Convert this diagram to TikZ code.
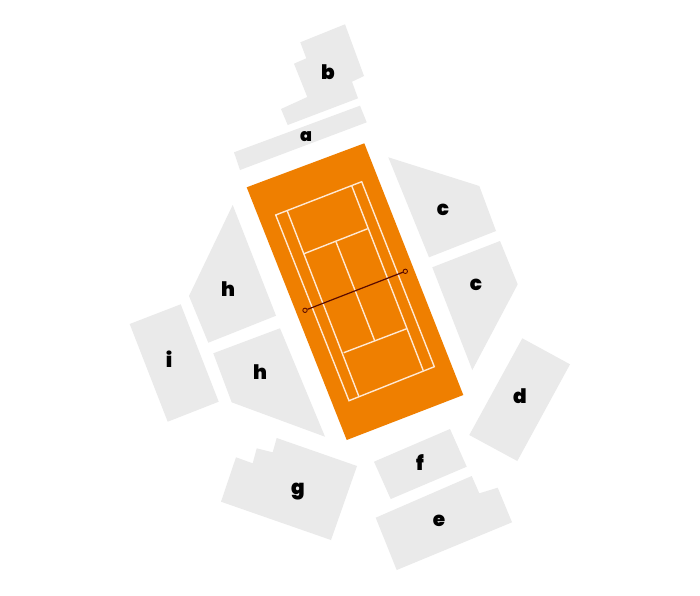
\documentclass[tikz,border=0pt]{standalone}
\usepackage{fontspec}
\setmainfont{Poppins}[BoldFont={Poppins Black}]
\definecolor{block}{HTML}{EAEAEA}
\definecolor{clay}{HTML}{EF7F00}
\definecolor{courtline}{HTML}{FFE8D2}
\definecolor{netline}{HTML}{5A0A00}
\tikzset{
  blockshape/.style={fill=block,draw=none},
  courtmark/.style={draw=courtline,line width=1.4pt,line join=miter},
  lab/.style={font=\bfseries\fontsize{20}{20}\selectfont,text=black,inner sep=0pt,anchor=base},
  labsmall/.style={lab,font=\bfseries\fontsize{17.5}{18}\selectfont},
  netpost/.style={circle,draw=netline,line width=0.85pt,inner sep=0pt,minimum size=4.4pt,fill=none}
}
\begin{document}
\begin{tikzpicture}[x=1pt,y=-1pt]
\useasboundingbox (0,0) rectangle (700,595);
\fill[white] (0,0) rectangle (700,595);
% a
\fill[blockshape] (234,152.3)--(360,105.7)--(366.7,122.3)--(240,170)--cycle;
% b
\fill[blockshape] (345,24.3)--(364,76)--(352,81.7)--(358,98.3)--(287.7,125)--(281,109)--(307.3,97)--(294,63.7)--(306.3,58.3)--(300.3,42.3)--cycle;
% c
\fill[blockshape] (388.3,157.3)--(479.3,186)--(496,231)--(429,257.3)--cycle;
\fill[blockshape] (500,241)--(517.7,284.3)--(472.3,370)--(432.3,267.3)--cycle;
% d
\fill[blockshape] (522.3,338.3)--(570,364.3)--(517.3,461)--(469.3,435)--cycle;
% e
\fill[blockshape] (471.7,476)--(479.3,493.3)--(497.7,487.7)--(512,522.3)--(396.7,570)--(375.7,517.7)--cycle;
% f
\fill[blockshape] (450,429)--(466.7,466.7)--(390.7,499)--(374,461.7)--cycle;
% g
\fill[blockshape] (276.7,438)--(357,466)--(331,540)--(221,501.7)--(236,457.3)--(252.7,463.3)--(256.7,448.3)--(272.7,452.3)--cycle;
% h
\fill[blockshape] (232.7,205)--(276,315.7)--(208.3,342.7)--(189,296)--cycle;
\fill[blockshape] (213.3,353.3)--(280,328.3)--(325,436.7)--(231.7,402.3)--cycle;
% i
\fill[blockshape] (180.7,304.3)--(218.7,401.7)--(167.7,421.7)--(129.7,324)--cycle;
% court
\fill[clay] (364.3,143.3)--(246.7,187.3)--(346.7,440)--(463.3,395)--cycle;
\draw[courtmark] (361.7,181.7)--(275.7,215)--(349,400.7)--(434.3,366.7)--cycle;
\draw[courtmark] (351.7,185.7)--(423.3,370.7);
\draw[courtmark] (287,210.3)--(359,396.7);
\draw[courtmark] (304,253.7)--(367.7,228.7);
\draw[courtmark] (343.7,352.7)--(406.7,328.7);
\draw[courtmark] (336,241.7)--(374.7,340.7);
% net
\node[netpost] (netA) at (305,310.3) {};
\node[netpost] (netB) at (405.3,271.3) {};
\draw[netline,line width=1.2pt] (netA)--(netB);
% labels
\node[labsmall] (la) at (306,141) {a};
\node[lab] (lb) at (328,79) {b};
\node[lab] (lc1) at (443,215) {c};
\node[lab] (lc2) at (476,290) {c};
\node[lab] (ld) at (520,403) {d};
\node[lab] (le) at (439,526) {e};
\node[lab] (lf) at (420,470) {f};
\node[lab] (lg) at (298,494) {g};
\node[lab] (lh1) at (228,296) {h};
\node[lab] (lh2) at (260,379) {h};
\node[lab] (li) at (169,367) {i};
\end{tikzpicture}
\end{document}
